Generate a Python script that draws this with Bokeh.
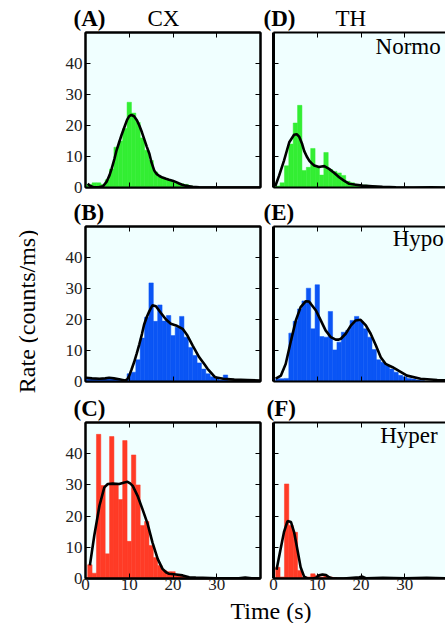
import math
from bokeh.plotting import figure
from bokeh.layouts import row, column
from bokeh.models import Range1d, LinearAxis, FixedTicker, Label
from bokeh.embed import file_html
from bokeh.resources import INLINE

# ---------------- data ----------------
# 1-s bins, centred on whole seconds
cx_normo_bins = list(range(0, 26))
cx_normo_counts = [1.0, 1.0, 1.5, 1.5, 1.0, 2.5, 6.0, 13.0, 15.0, 19.0, 27.5, 24.0, 21.0,
                   16.0, 12.0, 8.7, 5.0, 3.5, 3.0, 2.5, 2.0, 1.5, 1.2, 1.0, 0.5, 0.3]
cx_normo_fit_t = [0.5, 1.0, 1.8, 3.0, 4.0, 4.8, 5.5, 6.0, 6.6, 7.1, 7.7, 8.3, 8.9, 9.5, 10.0,
                  10.5, 11.1, 11.7, 12.3, 12.9, 13.4, 14.0, 14.6, 15.1, 15.7, 16.3, 16.9, 17.6,
                  18.4, 19.1, 19.9, 20.6, 21.4, 22.1, 22.9, 23.7, 24.5, 26.0, 30.0, 35.0, 40.0]
cx_normo_fit_v = [1.2, 0.6, 0.1, 0.1, 0.4, 1.8, 4.0, 6.2, 9.2, 12.0, 14.6, 17.2, 19.5, 21.8, 23.0,
                  23.4, 23.0, 21.8, 20.0, 17.8, 15.7, 13.2, 10.9, 8.0, 5.5, 4.3, 3.7, 3.2,
                  2.8, 2.5, 2.2, 1.8, 1.3, 0.9, 0.6, 0.4, 0.2, 0.1, 0.0, 0.0, 0.0]

th_normo_bins = list(range(0, 25))
th_normo_counts = [0.5, 0.5, 1.5, 7.0, 14.0, 20.8, 26.5, 5.5, 6.5, 12.6, 6.5, 4.0, 11.3,
                   5.8, 5.2, 4.7, 3.9, 2.0, 1.5, 1.0, 0.8, 0.8, 0.6, 0.5, 0.3]
th_normo_fit_t = [0.4, 1.3, 2.4, 3.6, 4.7, 5.3, 5.9, 6.5, 7.0, 7.6, 8.2, 8.8, 9.3, 10.4, 11.0,
                  11.6, 12.7, 13.9, 15.0, 16.1, 17.3, 18.8, 20.3, 22.6, 24.9, 28.0, 32.0, 36.0, 39.3]
th_normo_fit_v = [0.4, 3.9, 8.7, 14.6, 17.0, 17.2, 16.3, 14.2, 11.8, 10.0, 8.6, 7.7, 7.1, 6.6, 6.8,
                  6.9, 6.0, 4.7, 3.3, 2.2, 1.2, 0.9, 0.6, 0.4, 0.2, 0.1, 0.0, 0.1, 0.0]

cx_hypo_bins = list(range(0, 33))
cx_hypo_counts = [1.0, 1.0, 1.0, 0.8, 1.0, 0.8, 1.0, 0.8, 0.5, 0.5, 2.5, 3.0, 7.0, 14.0, 20.7,
                  31.8, 19.4, 24.7, 19.5, 21.3, 14.8, 17.5, 21.0, 14.3, 11.0, 8.4, 6.0, 4.0,
                  2.5, 1.5, 1.0, 0.5, 2.1]
cx_hypo_fit_t = [0.1, 1.5, 3.2, 4.5, 5.4, 6.5, 7.7, 8.5, 9.1, 9.6, 10.0, 10.5, 11.1, 11.7, 12.3,
                 12.9, 13.4, 14.0, 14.6, 15.3, 16.1, 17.2, 18.4, 19.5, 20.7, 22.2, 23.3, 24.5,
                 26.0, 27.1, 27.9, 29.6, 31.5, 34.0, 37.0, 40.0]
cx_hypo_fit_v = [1.2, 1.0, 0.9, 1.0, 1.2, 1.0, 0.75, 0.5, 0.3, 0.8, 1.9, 3.8, 6.2, 9.0, 12.0,
                 15.3, 18.4, 20.8, 22.7, 24.6, 24.3, 22.2, 20.0, 18.6, 18.1, 17.0, 14.8, 11.6,
                 7.8, 5.7, 4.1, 1.4, 0.9, 0.6, 0.5, 0.3]

th_hypo_bins = list(range(0, 35))
th_hypo_counts = [0.0, 0.9, 0.9, 1.0, 15.6, 19.4, 23.4, 26.0, 30.1, 17.0, 31.2, 14.5, 14.3,
                  22.6, 10.2, 12.7, 15.9, 16.5, 19.7, 21.0, 19.4, 17.0, 14.3, 10.3, 7.0, 6.2,
                  5.2, 4.0, 3.0, 2.0, 1.5, 1.0, 0.8, 0.5, 0.3]
th_hypo_fit_t = [0.5, 1.7, 2.8, 4.0, 5.1, 6.2, 7.4, 8.1, 8.5, 9.7, 10.8, 11.9, 13.1, 14.2, 14.9,
                 15.4, 16.5, 17.7, 18.8, 19.9, 21.1, 22.2, 23.4, 24.5, 25.6, 27.2, 30.5, 33.6,
                 37.4, 39.3]
th_hypo_fit_v = [0.9, 1.9, 5.7, 13.2, 19.7, 24.0, 25.9, 25.8, 25.1, 22.9, 19.7, 16.5, 14.3, 13.5,
                 13.5, 13.8, 15.4, 18.1, 19.7, 19.9, 18.1, 15.4, 11.6, 7.8, 5.7, 4.6, 1.9, 0.9,
                 0.5, 0.4]

cx_hyper_bins = list(range(0, 24))
cx_hyper_counts = [0.0, 4.4, 1.7, 46.2, 29.8, 7.9, 45.5, 30.3, 25.3, 44.2, 11.9, 39.6, 30.0,
                   17.0, 18.3, 10.6, 6.7, 4.2, 2.6, 2.2, 2.2, 1.0, 0.8, 0.5]
cx_hyper_fit_t = [1.0, 2.0, 3.2, 4.3, 5.1, 6.2, 7.7, 8.9, 9.6, 10.2, 10.8, 11.9, 13.0, 14.2,
                  15.3, 16.5, 17.6, 18.4, 19.1, 20.7, 22.2, 23.7, 25.2, 30.0, 35.0, 36.5, 38.0, 40.0]
cx_hyper_fit_v = [4.2, 13.7, 23.4, 29.2, 30.3, 30.4, 30.3, 30.8, 31.0, 30.5, 29.7, 26.5, 22.3,
                  17.5, 11.6, 6.3, 3.1, 2.0, 1.5, 1.3, 1.0, 0.4, 0.3, 0.1, 0.1, 0.3, 0.1, 0.0]

th_hyper_bins = list(range(0, 15))
th_hyper_counts = [0.0, 3.6, 0.5, 30.3, 17.0, 14.8, 2.6, 0.5, 0.5, 1.5, 1.0, 0.5, 0.8, 0.5, 0.3]
th_hyper_fit_t = [0.7, 1.7, 2.4, 3.2, 4.0, 4.7, 5.5, 6.2, 7.0, 7.8, 8.9, 9.7, 10.4, 11.2, 12.0,
                  12.7, 13.5, 16.0, 19.6, 20.3, 21.1, 25.0, 30.0, 35.0, 39.3]
th_hyper_fit_v = [2.8, 10.0, 14.9, 18.4, 18.1, 14.9, 9.0, 3.6, 0.6, 0.0, 0.0, 0.2, 1.0, 1.3, 1.1,
                  0.4, 0.0, 0.0, 0.4, 0.6, 0.1, 0.2, 0.1, 0.2, 0.1]

panel_letters = [["(A)", "(D)"], ["(B)", "(E)"], ["(C)", "(F)"]]
column_titles = ["CX", "TH"]
condition_names = ["Normo", "Hypo", "Hyper"]
x_ticks = [0, 10, 20, 30, 40]
x_tick_labels = [0, 10, 20, 30]
y_ticks = [0, 10, 20, 30, 40]
y_label = "Rate (counts/ms)"
x_label = "Time (s)"

# ---------------- styling / geometry ----------------
SERIF = "Liberation Serif"
BG = "#F0FFFF"
GREEN = "#33EE33"
BLUE = "#0A55F5"
RED = "#FF3B26"
SHIFT = 7  # px: label anchor sits this far below the drawn baseline

YLAB_W = 38
GRID_W = 445 - YLAB_W
STRIPS = [31, 27, 29]
ROWS = [(167, 1, 11), (167, 1, 11), (176, 1, 19)]
COLS = [(225, 47, 3, 40.0), (182, 10, 0, 39.3)]
TL_H = 623 - sum(STRIPS) - sum(r[0] for r in ROWS)


def make_axis(ticks, labels, lw):
    ax = LinearAxis(ticker=FixedTicker(ticks=ticks))
    ax.axis_line_color = "black"
    ax.axis_line_width = lw
    ax.major_tick_in = 5
    ax.major_tick_out = 0
    ax.major_tick_line_color = "black"
    ax.major_tick_line_width = 1
    ax.minor_tick_line_color = None
    if labels:
        ax.major_label_text_font = SERIF
        ax.major_label_text_font_size = "17px"
        ax.major_label_text_color = "#222222"
    else:
        ax.major_label_text_font_size = "0px"
        ax.major_label_text_color = None
        ax.major_label_standoff = 0
    return ax


def panel(ri, ci, bins, counts, ft, fv, color):
    h, bt, bb = ROWS[ri]
    w, bl, br, xmax = COLS[ci]
    p = figure(width=w, height=h, x_range=Range1d(0, xmax), y_range=Range1d(0, 50),
               x_axis_location=None, y_axis_location=None, toolbar_location=None,
               output_backend="svg", min_border_left=bl, min_border_right=br,
               min_border_top=bt, min_border_bottom=bb)
    p.background_fill_color = BG
    p.border_fill_color = "white"
    p.grid.visible = False
    if ci == 0:
        p.outline_line_color = "black"
        p.outline_line_width = 2
    else:
        p.outline_line_color = None

    if ri == 2:
        # ticks on every decade, numbers on 0-30 only
        p.add_layout(make_axis(x_ticks, False, 2), "below")
        below = make_axis(x_tick_labels, True, 2)
        below.major_label_standoff = 0
        below.major_tick_in = 0
        p.add_layout(below, "below")
    else:
        p.add_layout(make_axis(x_ticks, False, 2), "below")
    p.add_layout(make_axis(x_ticks, False, 2), "above")
    left = make_axis(y_ticks, ci == 0, 2 if ci == 0 else 3)
    if ci == 0:
        left.major_label_standoff = 3
    p.add_layout(left, "left")
    if ci == 0:
        p.add_layout(make_axis(y_ticks, False, 2), "right")

    p.vbar(x=bins, top=counts, width=1.0, fill_color=color, line_color=color, line_width=0.5)
    p.line(ft, fv, line_color="black", line_width=2.6)

    if ci == 1:
        cx = [38.2, 38.9, 37.5][ri]
        cy = [43.2, 43.9, 43.7][ri] + SHIFT / 3.1
        p.add_layout(Label(x=cx, y=cy, text=condition_names[ri], text_font=SERIF,
                           text_font_size="23px", text_align="right",
                           text_baseline="alphabetic", text_color="black"))
    return p


def strip(ri):
    sh = STRIPS[ri]
    s = figure(width=GRID_W, height=sh, x_range=Range1d(0, GRID_W), y_range=Range1d(0, sh),
               x_axis_location=None, y_axis_location=None, toolbar_location=None,
               output_backend="svg", min_border=0)
    s.outline_line_color = None
    s.grid.visible = False
    base = 6.0 + SHIFT
    lx = [(35, 225), (35, 225), (35, 228)][ri]
    for ci in range(2):
        s.add_layout(Label(x=lx[ci], y=base, text=panel_letters[ri][ci], text_font=SERIF,
                           text_font_style="bold", text_font_size="23px", text_align="left",
                           text_baseline="alphabetic", text_color="black"))
    if ri == 0:
        for ci, tx in enumerate([109, 297]):
            s.add_layout(Label(x=tx, y=base, text=column_titles[ci], text_font=SERIF,
                               text_font_size="23px", text_align="left",
                               text_baseline="alphabetic", text_color="black"))
    return s


pA = panel(0, 0, cx_normo_bins, cx_normo_counts, cx_normo_fit_t, cx_normo_fit_v, GREEN)
pD = panel(0, 1, th_normo_bins, th_normo_counts, th_normo_fit_t, th_normo_fit_v, GREEN)
pB = panel(1, 0, cx_hypo_bins, cx_hypo_counts, cx_hypo_fit_t, cx_hypo_fit_v, BLUE)
pE = panel(1, 1, th_hypo_bins, th_hypo_counts, th_hypo_fit_t, th_hypo_fit_v, BLUE)
pC = panel(2, 0, cx_hyper_bins, cx_hyper_counts, cx_hyper_fit_t, cx_hyper_fit_v, RED)
pF = panel(2, 1, th_hyper_bins, th_hyper_counts, th_hyper_fit_t, th_hyper_fit_v, RED)

grid_h = sum(STRIPS) + sum(r[0] for r in ROWS)

ylab = figure(width=YLAB_W, height=grid_h, x_range=Range1d(0, YLAB_W), y_range=Range1d(0, grid_h),
              x_axis_location=None, y_axis_location=None, toolbar_location=None,
              output_backend="svg", min_border=0)
ylab.outline_line_color = None
ylab.grid.visible = False
ylab.add_layout(Label(x=33.0 - SHIFT, y=grid_h - 311, text=y_label, text_font=SERIF,
                      text_font_size="24px", angle=math.pi / 2, text_align="center",
                      text_baseline="alphabetic", text_color="black"))

tlab = figure(width=445, height=TL_H, x_range=Range1d(0, 445), y_range=Range1d(0, TL_H),
              x_axis_location=None, y_axis_location=None, toolbar_location=None,
              output_backend="svg", min_border=0)
tlab.outline_line_color = None
tlab.grid.visible = False
tlab.add_layout(Label(x=270.5, y=(623 - 617.5) + SHIFT, text=x_label, text_font=SERIF,
                      text_font_size="24px", text_align="center", text_baseline="alphabetic",
                      text_color="black"))

grid = column(strip(0), row(pA, pD), strip(1), row(pB, pE), strip(2), row(pC, pF))
page = column(row(ylab, grid), tlab)

open("out.html", "w").write(file_html(page, INLINE))
